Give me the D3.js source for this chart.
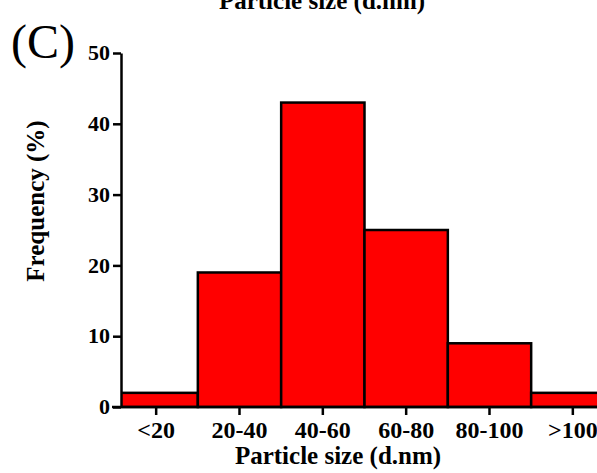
<!DOCTYPE html>
<html>
<head>
<meta charset="utf-8">
<script src="https://cdn.jsdelivr.net/npm/d3@7"></script>
<style>
  body { margin: 0; background: white; overflow: hidden; }
  svg { display: block; }
</style>
</head>
<body>
<svg id="hist"></svg>
<script>
let width = 597
let height = 473

let categories = ["<20", "20-40", "40-60", "60-80", "80-100", ">100"]
let frequency = [2, 19, 43, 25, 9, 2]
let yTicks = [0, 10, 20, 30, 40, 50]

let data = categories.map((c, i) => ({size: c, freq: frequency[i]}))

let axisX = 121
let xScale = d3.scaleBand()
    .domain(categories)
    .range([114.5, 614.5])
    .padding(0)

let yScale = d3.scaleLinear().domain([0, 50]).range([407, 53])

let font = "'Liberation Serif', 'Times New Roman', serif"

let svg = d3.select("#hist")
    .attr("width", width)
    .attr("height", height)

svg.append("defs").append("clipPath")
    .attr("id", "plot_clip")
    .append("rect")
    .attr("x", axisX)
    .attr("y", 0)
    .attr("width", width)
    .attr("height", height)

// bars
svg.append("g")
    .attr("clip-path", "url(#plot_clip)")
    .selectAll(".bar")
    .data(data)
    .enter()
    .append("rect")
    .classed("bar", true)
    .attr("x", d => xScale(d.size))
    .attr("y", d => yScale(d.freq))
    .attr("width", xScale.bandwidth())
    .attr("height", d => yScale(0) - yScale(d.freq))
    .attr("fill", "#ff0000")
    .attr("stroke", "black")
    .attr("stroke-width", 2.5)

// x axis
let xAxis = svg.append("g")
    .attr("id", "x_axis")
    .attr("transform", "translate(0," + yScale(0) + ")")
    .call(d3.axisBottom(xScale).tickSize(8).tickSizeOuter(0))
xAxis.select(".domain").remove()
xAxis.append("line")
    .attr("x1", 112).attr("x2", width)
    .attr("stroke", "black").attr("stroke-width", 2.5)
xAxis.selectAll(".tick line").attr("stroke-width", 2.5)
xAxis.selectAll("text")
    .attr("y", 31)
    .attr("dy", 0)
    .attr("font-family", font)
    .attr("font-weight", "bold")
    .attr("font-size", 24)
    .attr("fill", "black")

// y axis
let yAxis = svg.append("g")
    .attr("id", "y_axis")
    .attr("transform", "translate(" + axisX + ",0)")
    .call(d3.axisLeft(yScale).tickValues(yTicks).tickSize(8).tickSizeOuter(0))
yAxis.select(".domain").attr("stroke-width", 2.5)
yAxis.selectAll(".tick line").attr("stroke-width", 2.5)
yAxis.selectAll("text")
    .attr("x", -11)
    .attr("dy", "0.3em")
    .attr("font-family", font)
    .attr("font-weight", "bold")
    .attr("font-size", 22)
    .attr("fill", "black")

// titles
svg.append("text")
    .text("Particle size (d.nm)")
    .attr("x", 338)
    .attr("y", 464)
    .attr("text-anchor", "middle")
    .attr("font-family", font)
    .attr("font-weight", "bold")
    .attr("font-size", 25)

svg.append("text")
    .text("Particle size (d.nm)")
    .attr("x", 322)
    .attr("y", 9)
    .attr("text-anchor", "middle")
    .attr("font-family", font)
    .attr("font-weight", "bold")
    .attr("font-size", 25)

svg.append("text")
    .text("Frequency (%)")
    .attr("text-anchor", "middle")
    .attr("font-family", font)
    .attr("font-weight", "bold")
    .attr("font-size", 25)
    .attr("transform", "translate(44,201) rotate(-90)")

svg.append("text")
    .text("(C)")
    .attr("x", 11)
    .attr("y", 58)
    .attr("font-family", font)
    .attr("font-size", 48)
</script>
</body>
</html>
